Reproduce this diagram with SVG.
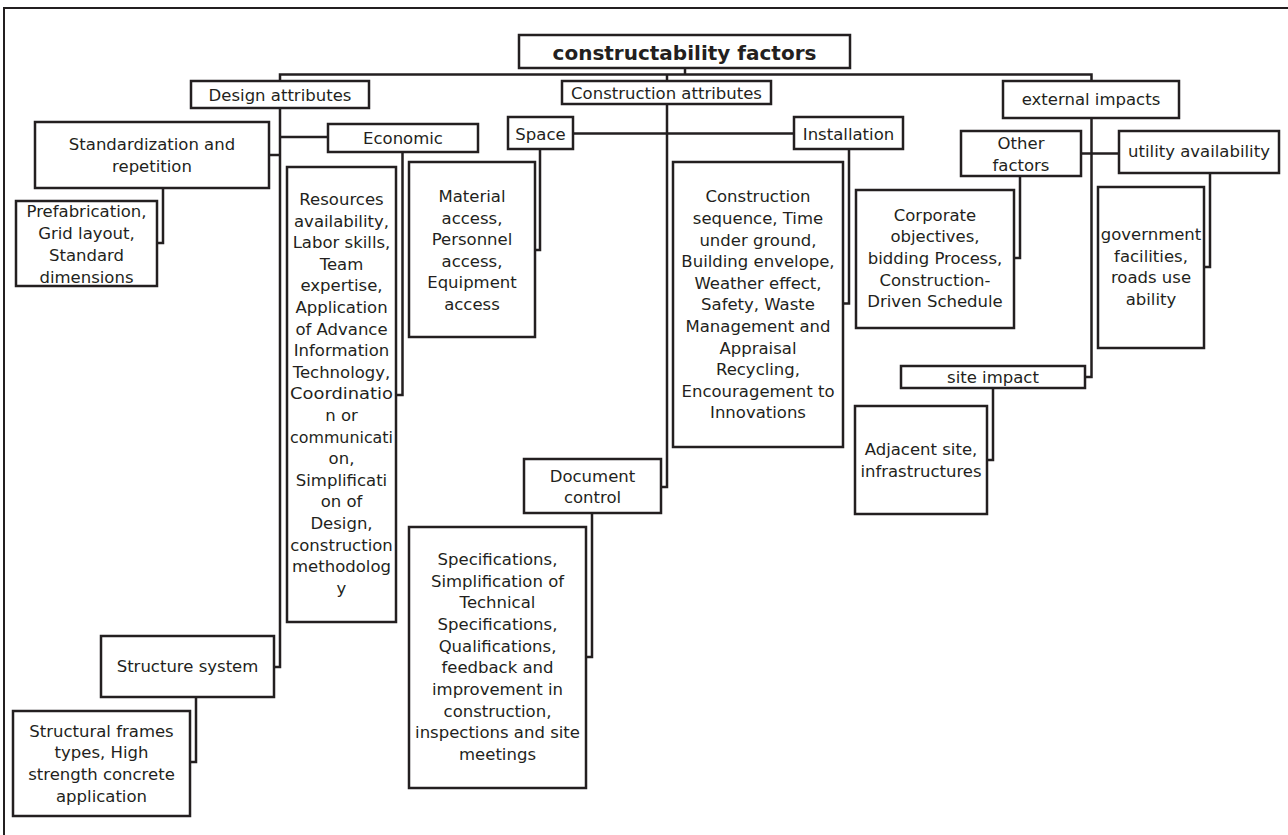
<svg xmlns="http://www.w3.org/2000/svg" width="1288" height="835" viewBox="0 0 1288 835">
<style>
.bx{fill:#fff;stroke:#231f20;stroke-width:2.5}
.cn{fill:none;stroke:#231f20;stroke-width:2.5}
.fr{fill:none;stroke:#231f20;stroke-width:2}
text{font-family:"DejaVu Sans","Liberation Sans",sans-serif;font-size:16.5px;fill:#231f20;text-anchor:middle}
.tt{font-weight:bold;font-size:20px}
</style>
<rect width="1288" height="835" fill="#fff"/>
<path class="fr" d="M4,835 V8 H1288"/>
<g id="connectors">
<path class="cn" d="M685,68 V74.5"/>
<path class="cn" d="M280,81 V74.5 H1091.5 V81"/>
<path class="cn" d="M667,74.5 V81"/>
<path class="cn" d="M280,108 V667 H274"/>
<path class="cn" d="M269,155 H280"/>
<path class="cn" d="M280,137 H328"/>
<path class="cn" d="M163,188 V243 H157"/>
<path class="cn" d="M402.5,152 V395 H396"/>
<path class="cn" d="M196,697 V762 H190"/>
<path class="cn" d="M667,104 V487 H661"/>
<path class="cn" d="M573,133.5 H794"/>
<path class="cn" d="M540,149 V250 H535"/>
<path class="cn" d="M849,149 V303.5 H843"/>
<path class="cn" d="M592,513 V657 H586"/>
<path class="cn" d="M1091.5,118 V377 H1085"/>
<path class="cn" d="M1081,153.5 H1119"/>
<path class="cn" d="M1020,176 V258 H1014"/>
<path class="cn" d="M1210,173 V267 H1204"/>
<path class="cn" d="M993,388 V460 H987"/>
</g>
<g id="title"><rect class="bx" x="519" y="35" width="331" height="33"/><text class="tt" x="684.5" y="60">constructability factors</text></g>
<g id="design"><rect class="bx" x="191" y="81" width="178" height="27"/><text x="280" y="100.5">Design attributes</text></g>
<g id="construction"><rect class="bx" x="562" y="81" width="209" height="23"/><text x="666.5" y="99">Construction attributes</text></g>
<g id="external"><rect class="bx" x="1003" y="81" width="176" height="37"/><text x="1091" y="104.5">external impacts</text></g>
<g id="standard"><rect class="bx" x="35" y="122" width="234" height="66"/><text x="152" y="150">Standardization and</text><text x="152" y="171.5">repetition</text></g>
<g id="economic"><rect class="bx" x="328" y="124" width="150" height="28"/><text x="403" y="143.5">Economic</text></g>
<g id="space"><rect class="bx" x="508" y="117" width="65" height="32"/><text x="540.5" y="139.5">Space</text></g>
<g id="installation"><rect class="bx" x="794" y="117" width="109" height="32"/><text x="848.5" y="139.5">Installation</text></g>
<g id="other"><rect class="bx" x="961" y="131" width="120" height="45"/><text x="1021" y="149">Other</text><text x="1021" y="170.5">factors</text></g>
<g id="utility"><rect class="bx" x="1119" y="131" width="160" height="42"/><text x="1199" y="156.5">utility availability</text></g>
<g id="prefab"><rect class="bx" x="16" y="201" width="141" height="85"/>
<text x="86.5" y="217">Prefabrication,</text><text x="86.5" y="239">Grid layout,</text><text x="86.5" y="261">Standard</text><text x="86.5" y="283">dimensions</text></g>
<g id="resources"><rect class="bx" x="287" y="167" width="109" height="455"/>
<text x="341.5" y="205">Resources</text>
<text x="341.5" y="226.6">availability,</text>
<text x="341.5" y="248.2">Labor skills,</text>
<text x="341.5" y="269.8">Team</text>
<text x="341.5" y="291.4">expertise,</text>
<text x="341.5" y="313">Application</text>
<text x="341.5" y="334.6">of Advance</text>
<text x="341.5" y="356.2">Information</text>
<text x="341.5" y="377.8">Technology,</text>
<text x="341.5" y="399.4" textLength="103" lengthAdjust="spacingAndGlyphs">Coordinatio</text>
<text x="341.5" y="421">n or</text>
<text x="341.5" y="442.6" textLength="103" lengthAdjust="spacingAndGlyphs">communicati</text>
<text x="341.5" y="464.2">on,</text>
<text x="341.5" y="485.8">Simplificati</text>
<text x="341.5" y="507.4">on of</text>
<text x="341.5" y="529">Design,</text>
<text x="341.5" y="550.6">construction</text>
<text x="341.5" y="572.2">methodolog</text>
<text x="341.5" y="593.8">y</text></g>
<g id="material"><rect class="bx" x="409" y="162" width="126" height="175"/>
<text x="472" y="202">Material</text><text x="472" y="223.6">access,</text><text x="472" y="245.2">Personnel</text><text x="472" y="266.8">access,</text><text x="472" y="288.4">Equipment</text><text x="472" y="310">access</text></g>
<g id="sequence"><rect class="bx" x="673" y="162" width="170" height="285"/>
<text x="758" y="202.3">Construction</text>
<text x="758" y="223.9">sequence, Time</text>
<text x="758" y="245.5">under ground,</text>
<text x="758" y="267.1">Building envelope,</text>
<text x="758" y="288.7">Weather effect,</text>
<text x="758" y="310.3">Safety, Waste</text>
<text x="758" y="331.9">Management and</text>
<text x="758" y="353.5">Appraisal</text>
<text x="758" y="375.1">Recycling,</text>
<text x="758" y="396.7">Encouragement to</text>
<text x="758" y="418.3">Innovations</text></g>
<g id="corporate"><rect class="bx" x="856" y="190" width="158" height="138"/>
<text x="935" y="220.7">Corporate</text><text x="935" y="242.3">objectives,</text><text x="935" y="263.9">bidding Process,</text><text x="935" y="285.5">Construction-</text><text x="935" y="307.1">Driven Schedule</text></g>
<g id="government"><rect class="bx" x="1098" y="187" width="106" height="161"/>
<text x="1151" y="240">government</text><text x="1151" y="261.6">facilities,</text><text x="1151" y="283.2">roads use</text><text x="1151" y="304.8">ability</text></g>
<g id="site"><rect class="bx" x="901" y="366" width="184" height="22"/><text x="993" y="382.5">site impact</text></g>
<g id="adjacent"><rect class="bx" x="855" y="406" width="132" height="108"/><text x="921" y="455">Adjacent site,</text><text x="921" y="476.6">infrastructures</text></g>
<g id="document"><rect class="bx" x="524" y="459" width="137" height="54"/><text x="592.5" y="481.7">Document</text><text x="592.5" y="503.3">control</text></g>
<g id="specs"><rect class="bx" x="409" y="527" width="177" height="261"/>
<text x="497.5" y="565">Specifications,</text>
<text x="497.5" y="586.7">Simplification of</text>
<text x="497.5" y="608.3">Technical</text>
<text x="497.5" y="630">Specifications,</text>
<text x="497.5" y="651.7">Qualifications,</text>
<text x="497.5" y="673.3">feedback and</text>
<text x="497.5" y="695">improvement in</text>
<text x="497.5" y="716.7">construction,</text>
<text x="497.5" y="738.3">inspections and site</text>
<text x="497.5" y="760">meetings</text></g>
<g id="structure"><rect class="bx" x="101" y="636" width="173" height="61"/><text x="187.5" y="671.5">Structure system</text></g>
<g id="frames"><rect class="bx" x="13" y="711" width="177" height="105"/>
<text x="101.5" y="736.7">Structural frames</text><text x="101.5" y="758.3">types, High</text><text x="101.5" y="780">strength concrete</text><text x="101.5" y="801.6">application</text></g>
</svg>
